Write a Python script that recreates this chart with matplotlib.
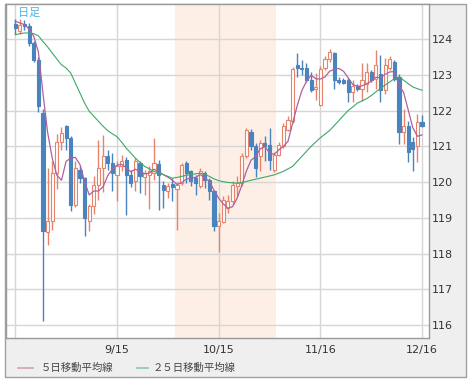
import numpy as np
import pandas as pd
import matplotlib
matplotlib.use('Agg')
from matplotlib import pyplot as plt
from matplotlib.lines import Line2D
from matplotlib.patches import Rectangle

# USD/JPY daily candles, 2015-08-14 .. 2015-12-16
dates = pd.bdate_range('2015-08-14', '2015-12-16')

opens = [124.43, 124.22, 124.42, 124.37, 123.89, 123.42, 121.93, 118.60, 118.90, 120.25,
         121.11, 121.56, 121.23, 119.37, 120.35, 120.11, 118.90, 119.32, 119.93, 120.39,
         120.72, 120.53, 120.21, 120.44, 120.63, 120.21, 120.02, 120.53, 120.14, 120.20,
         120.25, 120.50, 119.93, 119.74, 119.95, 119.80, 119.97, 120.53, 120.30, 120.11,
         119.88, 120.25, 120.07, 119.74, 118.76, 118.87, 119.27, 119.46, 119.88, 119.97,
         120.72, 121.41, 121.00, 120.72, 121.09, 121.04, 120.34, 120.76, 121.00, 121.46,
         121.70, 123.28, 123.19, 123.19, 122.86, 122.60, 122.16, 123.19, 123.43, 123.60,
         122.85, 122.85, 122.85, 122.52, 122.70, 122.61, 122.75, 123.08, 122.89, 123.03,
         122.57, 123.18, 123.36, 122.94, 121.39, 121.58, 121.11, 121.02, 121.68]
highs = [124.55, 124.55, 124.52, 124.45, 123.95, 123.50, 122.05, 120.40, 120.58, 121.35,
         121.55, 121.60, 121.30, 120.60, 120.45, 120.15, 119.40, 120.16, 121.17, 121.31,
         120.90, 120.80, 120.58, 120.75, 120.70, 120.35, 120.67, 120.58, 120.35, 120.45,
         121.23, 120.62, 120.02, 119.97, 120.11, 120.00, 120.53, 120.58, 120.35, 120.20,
         120.39, 120.30, 120.11, 119.79, 119.13, 119.60, 119.65, 120.02, 120.16, 120.81,
         121.51, 121.48, 121.09, 121.18, 121.28, 121.51, 120.85, 121.13, 121.65, 121.86,
         123.23, 123.60, 123.42, 123.33, 123.09, 123.05, 123.25, 123.52, 123.72, 123.65,
         122.95, 122.90, 122.90, 122.85, 122.75, 123.32, 123.32, 123.13, 123.69, 123.55,
         123.46, 123.52, 123.41, 123.03, 122.05, 121.72, 121.25, 121.90, 121.88]
lows = [124.15, 124.15, 124.25, 123.80, 123.35, 121.95, 116.11, 118.25, 118.67, 119.80,
        120.90, 120.90, 119.20, 119.30, 119.97, 118.50, 118.62, 119.10, 119.50, 119.73,
        120.35, 119.75, 119.46, 120.30, 119.09, 119.85, 119.75, 119.70, 119.65, 119.25,
        120.05, 119.23, 119.27, 119.55, 119.46, 118.67, 119.93, 119.97, 119.88, 119.65,
        119.83, 119.83, 119.51, 118.62, 118.05, 118.85, 119.13, 119.40, 119.60, 119.88,
        120.67, 120.90, 120.15, 120.30, 120.58, 120.34, 120.29, 120.72, 120.95, 121.42,
        121.65, 122.95, 123.00, 122.81, 122.53, 122.30, 122.12, 123.14, 123.36, 122.61,
        122.75, 122.75, 122.24, 122.24, 122.55, 122.28, 122.52, 122.80, 122.61, 122.24,
        122.47, 123.14, 122.84, 121.07, 121.07, 120.55, 120.32, 120.55, 121.55]
closes = [124.31, 124.40, 124.36, 123.89, 123.42, 122.12, 118.62, 118.92, 120.25, 121.11,
          121.37, 121.23, 119.37, 120.39, 120.11, 119.00, 119.32, 119.93, 120.39, 120.72,
          120.53, 120.25, 120.44, 120.58, 120.21, 119.97, 120.58, 120.16, 120.25, 120.30,
          120.53, 120.20, 119.79, 119.88, 119.85, 119.93, 120.49, 120.25, 120.02, 119.97,
          120.30, 120.07, 119.74, 118.76, 118.90, 119.50, 119.46, 119.92, 119.97, 120.72,
          121.46, 121.00, 120.39, 121.09, 121.01, 120.62, 120.76, 121.04, 121.56, 121.74,
          123.16, 123.19, 123.15, 122.86, 122.58, 122.67, 123.16, 123.45, 123.64, 122.85,
          122.80, 122.77, 122.52, 122.70, 122.61, 122.85, 123.08, 122.85, 123.27, 122.57,
          123.27, 123.43, 122.89, 121.39, 121.58, 120.83, 120.93, 121.68, 121.58]

ma5 = [124.50, 124.45, 124.40, 124.28, 124.08, 123.64, 122.48, 121.39, 120.67, 120.20,
       120.05, 120.58, 120.67, 120.69, 120.49, 120.02, 119.64, 119.75, 119.75, 119.87,
       120.18, 120.36, 120.47, 120.50, 120.40, 120.29, 120.36, 120.30, 120.23, 120.25,
       120.36, 120.29, 120.21, 120.14, 120.05, 119.93, 119.99, 120.08, 120.11, 120.13,
       120.21, 120.12, 120.02, 119.77, 119.55, 119.39, 119.27, 119.31, 119.55, 119.91,
       120.31, 120.61, 120.71, 120.93, 120.99, 120.82, 120.77, 120.90, 121.00, 121.14,
       121.65, 122.14, 122.56, 122.82, 122.99, 122.89, 122.88, 122.94, 123.10, 123.15,
       123.18, 123.10, 122.92, 122.73, 122.68, 122.69, 122.75, 122.82, 122.93, 122.92,
       123.01, 123.08, 123.09, 122.71, 122.51, 122.02, 121.52, 121.28, 121.32]
ma25 = [124.12, 124.15, 124.17, 124.17, 124.15, 124.09, 123.93, 123.78, 123.61, 123.44,
        123.28, 123.19, 123.05, 122.77, 122.49, 122.21, 121.98, 121.84, 121.70, 121.56,
        121.44, 121.35, 121.27, 121.12, 120.95, 120.81, 120.67, 120.55, 120.44, 120.37,
        120.30, 120.25, 120.21, 120.16, 120.11, 120.13, 120.16, 120.19, 120.21, 120.23,
        120.25, 120.21, 120.16, 120.09, 120.04, 120.01, 119.99, 119.98, 119.97, 119.99,
        120.02, 120.05, 120.08, 120.11, 120.14, 120.17, 120.20, 120.25, 120.30, 120.37,
        120.44, 120.58, 120.72, 120.86, 121.00, 121.12, 121.24, 121.34, 121.44, 121.58,
        121.72, 121.86, 122.00, 122.10, 122.21, 122.27, 122.33, 122.42, 122.52, 122.62,
        122.71, 122.80, 122.89, 122.94, 122.85, 122.75, 122.66, 122.61, 122.57]

tick_dates = ['2015-08-14', '2015-09-15', '2015-10-15', '2015-11-16', '2015-12-16']
shade_dates = ('2015-10-02', '2015-11-02')
y_ticks = [116, 117, 118, 119, 120, 121, 122, 123, 124]
legend_labels = ['５日移動平均線', '２５日移動平均線']

UP = '#e8836b'
DOWN = '#4a84bf'
MA5_COL = '#b0609e'
MA25_COL = '#3fa866'

plt.rcParams['font.family'] = ['DejaVu Sans', 'Noto Sans CJK JP']

o = np.array(opens)
h = np.array(highs)
l = np.array(lows)
c = np.array(closes)
x = np.arange(len(dates))
pos = {d.strftime('%Y-%m-%d'): i for i, d in enumerate(dates)}

fig = plt.figure(figsize=(4.76, 3.84), dpi=100)
fig.add_artist(Rectangle((5 / 476, 7 / 384), 461 / 476, 373 / 384,
                         transform=fig.transFigure, facecolor='#efefef',
                         edgecolor='#a0a0a0', lw=1, zorder=-1))

ax = fig.add_axes([6 / 476, 46 / 384, 423 / 476, 334 / 384])
ax.set_facecolor('white')
ax.set_xlim(-2, 89.5)
ax.set_ylim(115.64, 124.98)

ax.axvspan(pos[shade_dates[0]] - 0.5, pos[shade_dates[1]] + 0.5,
           color='#fdefe5', lw=0, zorder=0)

ax.set_yticks(y_ticks)
ax.set_xticks([pos[d] for d in tick_dates])
ax.set_xticklabels([''] + [f'{int(d[5:7])}/{int(d[8:])}' for d in tick_dates[1:]])
ax.grid(color='#d6d6d6', lw=1, zorder=0.5)
ax.set_axisbelow(True)
ax.yaxis.tick_right()
ax.tick_params(axis='y', length=0, pad=2, labelsize=8, labelcolor='#333333')
ax.tick_params(axis='x', length=0, pad=5, labelsize=8, labelcolor='#333333')
for sp in ax.spines.values():
    sp.set_color('#999999')
    sp.set_linewidth(1)

up = c >= o
dn = ~up
body_lo = np.minimum(o, c)
body_h = np.maximum(np.abs(c - o), 0.03)

ax.vlines(x[up], l[up], h[up], color=UP, lw=1, zorder=2)
ax.vlines(x[dn], l[dn], h[dn], color=DOWN, lw=1, zorder=2)
ax.bar(x[up], body_h[up], bottom=body_lo[up], width=0.68,
       facecolor='white', edgecolor=UP, lw=0.8, zorder=3)
ax.bar(x[dn], body_h[dn], bottom=body_lo[dn], width=0.68,
       facecolor=DOWN, edgecolor=DOWN, lw=0.8, zorder=3)

ax.plot(x, ma5, color=MA5_COL, lw=0.9, zorder=4)
ax.plot(x, ma25, color=MA25_COL, lw=0.8, zorder=4)

fig.text(18 / 476, 1 - 13 / 384, '日足', color='#4cb4e2', fontsize=8,
         family=['Noto Sans CJK JP'], va='center', ha='left')

# legend under the axis
ly = 1 - 368 / 384
fig.add_artist(Line2D([18 / 476, 33 / 476], [ly, ly], color='#d0a3b4', lw=1.2))
fig.text(41 / 476, ly, legend_labels[0], fontsize=7.5, color='#444444',
         family=['Noto Sans CJK JP'], va='center', ha='left')
fig.add_artist(Line2D([137 / 476, 148 / 476], [ly, ly], color='#86c9ab', lw=1.2))
fig.text(153 / 476, ly, legend_labels[1], fontsize=7.5, color='#444444',
         family=['Noto Sans CJK JP'], va='center', ha='left')

plt.savefig('out.png', dpi=100)
plt.close()
